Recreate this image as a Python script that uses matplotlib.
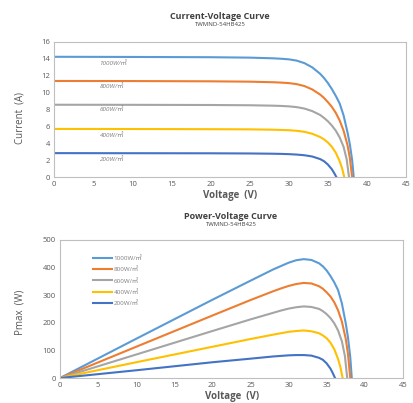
import matplotlib.pyplot as plt
import matplotlib

matplotlib.rcParams['font.family'] = ['Open Sans', 'Noto Sans CJK SC', 'DejaVu Sans']
matplotlib.rcParams['axes.unicode_minus'] = False

# 辐照度标签与颜色
labels = ['1000W/㎡', '800W/㎡', '600W/㎡', '400W/㎡', '200W/㎡']
colors = ['#5B9BD5', '#ED7D31', '#A5A5A5', '#FFC000', '#4472C4']

# I-V 曲线
v_1000 = [0, 10, 20, 25, 28, 29, 30, 31, 32, 33, 34, 34.5, 35, 35.5, 36, 36.5, 37, 37.5, 37.8, 38.1, 38.3]
i_1000 = [14.2, 14.18, 14.15, 14.1, 14.02, 13.97, 13.9, 13.75, 13.45, 12.95, 12.2, 11.7, 11.1, 10.4, 9.6,
          8.7, 7.3, 5.3, 3.9, 2.0, 0]
v_800 = [0, 10, 20, 25, 28, 29, 30, 31, 32, 33, 34, 34.5, 35, 35.5, 36, 36.5, 37, 37.5, 37.8, 38.1]
i_800 = [11.35, 11.34, 11.31, 11.27, 11.2, 11.16, 11.1, 10.98, 10.75, 10.35, 9.75, 9.35, 8.85, 8.3, 7.6,
         6.7, 5.5, 3.8, 2.3, 0]
v_600 = [0, 10, 20, 25, 28, 29, 30, 31, 32, 33, 34, 34.5, 35, 35.5, 36, 36.5, 37, 37.4, 37.7]
i_600 = [8.55, 8.54, 8.52, 8.49, 8.44, 8.41, 8.36, 8.27, 8.1, 7.8, 7.35, 7.0, 6.6, 6.1, 5.5, 4.7, 3.6, 2.1, 0]
v_400 = [0, 10, 20, 25, 28, 29, 30, 31, 32, 33, 34, 34.5, 35, 35.5, 36, 36.5, 36.8, 37.1]
i_400 = [5.7, 5.69, 5.67, 5.65, 5.61, 5.58, 5.55, 5.48, 5.36, 5.13, 4.75, 4.47, 4.1, 3.6, 2.9, 1.9, 1.1, 0]
v_200 = [0, 10, 20, 25, 28, 29, 30, 31, 32, 33, 34, 34.5, 35, 35.5, 35.8, 36.1]
i_200 = [2.85, 2.84, 2.83, 2.81, 2.78, 2.76, 2.73, 2.68, 2.6, 2.45, 2.15, 1.9, 1.5, 0.95, 0.5, 0]

# P-V 曲线
p_1000 = [0, 142, 283, 352, 393, 405, 417, 426, 430, 427, 415, 404, 389, 369, 346, 318, 270, 199, 147, 76, 0]
p_800 = [0, 113, 226, 282, 314, 324, 333, 340, 344, 342, 332, 323, 310, 295, 274, 245, 204, 143, 87, 0]
p_600 = [0, 85, 170, 212, 236, 244, 251, 256, 259, 257, 250, 242, 231, 217, 198, 172, 133, 79, 0]
p_400 = [0, 57, 113, 141, 157, 162, 167, 170, 172, 169, 162, 154, 144, 128, 104, 69, 40, 0]
p_200 = [0, 28, 57, 70, 78, 80, 82, 83, 83, 81, 73, 66, 53, 34, 18, 0]

volts = [v_1000, v_800, v_600, v_400, v_200]
currents = [i_1000, i_800, i_600, i_400, i_200]
powers = [p_1000, p_800, p_600, p_400, p_200]

tick_color = '#595959'
spine_color = '#BFBFBF'

fig = plt.figure(figsize=(4.14, 4.03), dpi=100)
ax1 = fig.add_axes([0.131, 0.560, 0.850, 0.337])
ax2 = fig.add_axes([0.145, 0.062, 0.828, 0.343])


def style_axes(ax):
    for s in ax.spines.values():
        s.set_color(spine_color)
        s.set_linewidth(0.8)
    ax.tick_params(length=0, labelsize=5.5, colors=tick_color, pad=3)
    ax.set_xlim(0, 45)
    ax.set_xticks(range(0, 46, 5))


# 上图: 电流-电压
for v, c, col in zip(volts, currents, colors):
    ax1.plot(v, c, color=col, lw=1.5, solid_joinstyle='round')
label_y = [13.5, 10.8, 8.0, 5.0, 2.1]
for lab, y in zip(labels, label_y):
    ax1.text(5.8, y, lab, fontsize=4.5, color='#7F7F7F', va='center', style='italic')
style_axes(ax1)
ax1.set_ylim(0, 16)
ax1.set_yticks(range(0, 17, 2))
fig.text(0.532, 0.960, 'Current-Voltage Curve', ha='center', va='center',
         fontsize=6.5, fontweight='bold', color='#404040')
fig.text(0.532, 0.940, 'TWMND-54HB425', ha='center', va='center', fontsize=4.3, color='#404040')
fig.text(0.555, 0.516, 'Voltage  (V)', ha='center', va='center',
         fontsize=7, fontweight='bold', color='#595959')
fig.text(0.048, 0.707, 'Current  (A)', ha='center', va='center', rotation=90,
         fontsize=7, color='#595959')

# 下图: 功率-电压
for v, p, col, lab in zip(volts, powers, colors, labels):
    ax2.plot(v, p, color=col, lw=1.5, label=lab, solid_joinstyle='round')
style_axes(ax2)
ax2.set_ylim(0, 500)
ax2.set_yticks(range(0, 501, 100))
ax2.legend(loc='upper left', bbox_to_anchor=(0.08, 0.93), frameon=False, fontsize=4.5,
           handlelength=3.0, handletextpad=0.3, labelspacing=0.9, labelcolor='#7F7F7F')
fig.text(0.558, 0.464, 'Power-Voltage Curve', ha='center', va='center',
         fontsize=6.5, fontweight='bold', color='#404040')
fig.text(0.558, 0.444, 'TWMND-54HB425', ha='center', va='center', fontsize=4.3, color='#404040')
fig.text(0.560, 0.015, 'Voltage  (V)', ha='center', va='center',
         fontsize=7, fontweight='bold', color='#595959')
fig.text(0.048, 0.226, 'Pmax  (W)', ha='center', va='center', rotation=90,
         fontsize=7, color='#595959')

fig.savefig('out.png', dpi=100)
